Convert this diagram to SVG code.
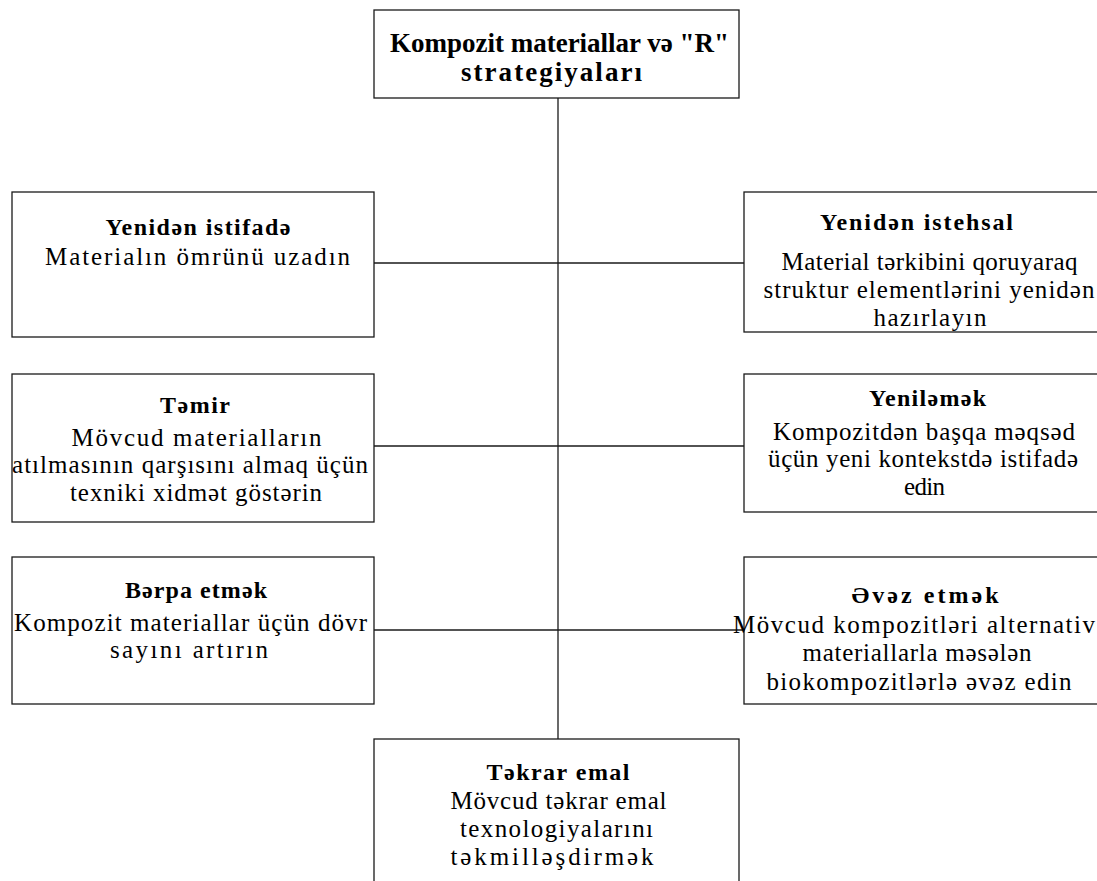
<svg xmlns="http://www.w3.org/2000/svg" width="1097" height="881" viewBox="0 0 1097 881">
<style>
.box{fill:#ffffff;stroke:#1a1a1a;stroke-width:1.3}
.ln{stroke:#1a1a1a;stroke-width:1.3;fill:none}
.t{fill:#000000;text-anchor:middle}
.b{font-weight:bold;font-size:24px}
.h{font-weight:bold;font-size:27px}
.r{font-size:25px}
</style>
<rect width="1097" height="881" fill="#ffffff"/>
<g id="connectors">
<line class="ln" x1="558" y1="98" x2="558" y2="739"/>
<line class="ln" x1="374" y1="263" x2="744" y2="263"/>
<line class="ln" x1="374" y1="446" x2="744" y2="446"/>
<line class="ln" x1="374" y1="630" x2="744" y2="630"/>
</g>
<g font-family="Liberation Serif">
<g id="root">
<rect class="box" x="374" y="10" width="365" height="88"/>
<text class="t h" x="559.5" y="52" textLength="339" lengthAdjust="spacing">Kompozit materiallar və "R"</text>
<text class="t h" x="551.5" y="81" textLength="181" lengthAdjust="spacing">strategiyaları</text>
</g>
<g id="reuse">
<rect class="box" x="12" y="192" width="362" height="145"/>
<text class="t b" x="198" y="235" textLength="185" lengthAdjust="spacing">Yenidən istifadə</text>
<text class="t r" x="197.5" y="265" textLength="305" lengthAdjust="spacing">Materialın ömrünü uzadın</text>
</g>
<g id="remanufacture">
<rect class="box" x="744" y="192" width="362" height="140"/>
<text class="t b" x="916.5" y="230" textLength="193" lengthAdjust="spacing">Yenidən istehsal</text>
<text class="t r" x="929.5" y="270" textLength="296" lengthAdjust="spacing">Material tərkibini qoruyaraq</text>
<text class="t r" x="929" y="298" textLength="331" lengthAdjust="spacing">struktur elementlərini yenidən</text>
<text class="t r" x="930" y="326" textLength="113" lengthAdjust="spacing">hazırlayın</text>
</g>
<g id="repair">
<rect class="box" x="12" y="374" width="362" height="148"/>
<text class="t b" x="195" y="413" textLength="70" lengthAdjust="spacing">Təmir</text>
<text class="t r" x="196.5" y="446" textLength="250" lengthAdjust="spacing">Mövcud materialların</text>
<text class="t r" x="190" y="473" textLength="356" lengthAdjust="spacing">atılmasının qarşısını almaq üçün</text>
<text class="t r" x="196" y="501" textLength="252" lengthAdjust="spacing">texniki xidmət göstərin</text>
</g>
<g id="refurbish">
<rect class="box" x="744" y="374" width="362" height="138"/>
<text class="t b" x="927.5" y="406" textLength="117" lengthAdjust="spacing">Yeniləmək</text>
<text class="t r" x="924" y="440" textLength="302" lengthAdjust="spacing">Kompozitdən başqa məqsəd</text>
<text class="t r" x="923" y="467" textLength="310" lengthAdjust="spacing">üçün yeni kontekstdə istifadə</text>
<text class="t r" x="924.5" y="495" textLength="41" lengthAdjust="spacing">edin</text>
</g>
<g id="recover">
<rect class="box" x="12" y="557" width="362" height="147"/>
<text class="t b" x="196" y="598" textLength="142" lengthAdjust="spacing">Bərpa etmək</text>
<text class="t r" x="190.5" y="631" textLength="353" lengthAdjust="spacing">Kompozit materiallar üçün dövr</text>
<text class="t r" x="189" y="658" textLength="158" lengthAdjust="spacing">sayını artırın</text>
</g>
<g id="replace">
<rect class="box" x="744" y="557" width="362" height="147"/>
<text class="t b" x="925" y="603" textLength="147" lengthAdjust="spacing">Əvəz etmək</text>
<text class="t r" x="914" y="633" textLength="362" lengthAdjust="spacing">Mövcud kompozitləri alternativ</text>
<text class="t r" x="917" y="661" textLength="229" lengthAdjust="spacing">materiallarla məsələn</text>
<text class="t r" x="919" y="690" textLength="305" lengthAdjust="spacing">biokompozitlərlə əvəz edin</text>
</g>
<g id="recycle">
<rect class="box" x="374" y="739" width="365" height="160"/>
<text class="t b" x="558" y="780" textLength="143" lengthAdjust="spacing">Təkrar emal</text>
<text class="t r" x="558.5" y="809" textLength="216" lengthAdjust="spacing">Mövcud təkrar emal</text>
<text class="t r" x="556.5" y="837" textLength="193" lengthAdjust="spacing">texnologiyalarını</text>
<text class="t r" x="552" y="865" textLength="203" lengthAdjust="spacing">təkmilləşdirmək</text>
</g>
</g>
</svg>
